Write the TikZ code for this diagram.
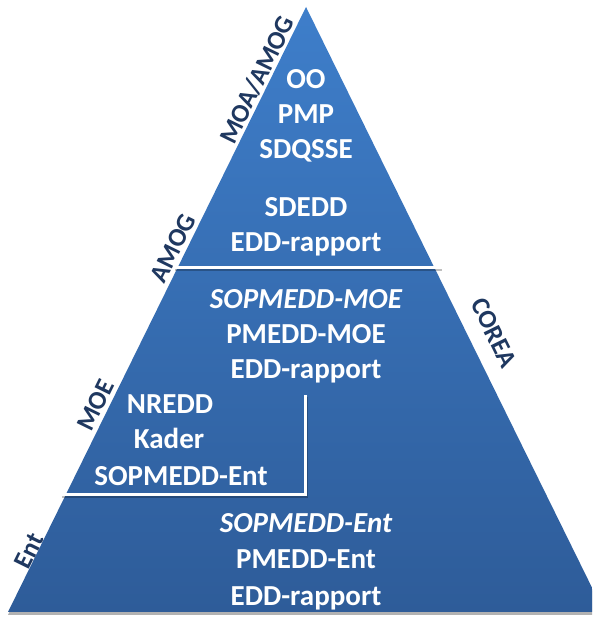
\documentclass[tikz,border=0pt]{standalone}
\usepackage{fontspec}
\setmainfont{Carlito}
\usetikzlibrary{calc}
\definecolor{topblue}{RGB}{62,126,202}
\definecolor{botblue}{RGB}{46,92,153}
\definecolor{navy}{RGB}{31,56,96}
\begin{document}
\begin{tikzpicture}[x=1pt,y=1pt,
  txt/.style={font=\bfseries\fontsize{29}{34}\selectfont, text=white, inner sep=0pt, anchor=base},
  itxt/.style={txt, font=\bfseries\itshape\fontsize{29}{34}\selectfont},
  side/.style={font=\bfseries\fontsize{26}{30}\selectfont, text=navy, inner sep=0pt},
  sep/.style={draw=white, line width=3pt},
  sepshadow/.style={draw=black, opacity=0.25, line width=3pt}]
\clip (0,0) rectangle (592,617);
\fill[white] (0,0) rectangle (592,617);
% coordinates
\coordinate (apex) at (306,610);
\coordinate (bl) at (8,5);
\coordinate (br) at (604,5);
% shadow
\fill[black!30] ($(apex)+(0,-3)$) -- ($(bl)+(0,-3)$) -- ($(br)+(0,-3)$) -- cycle;
\shade[top color=topblue, bottom color=botblue] (apex) -- (bl) -- (br) -- cycle;
% separators
\coordinate (s1l) at (175,349);
\coordinate (s1r) at (442,349);
\coordinate (s2t) at (305,222);
\coordinate (s2c) at (305,122);
\coordinate (s2l) at (62,122);
\draw[sepshadow] ($(s1l)+(0,-2)$) -- ($(s1r)+(0,-2)$);
\draw[sep] (s1l) -- (s1r);
\draw[sepshadow] ($(s2t)+(1.5,-2)$) -- ($(s2c)+(1.5,-2)$) -- ($(s2l)+(0,-2)$);
\draw[sep] (s2t) -- (s2c) -- (s2l);
% texts
\node[txt] (oo) at (306,528) {OO};
\node[txt] (pmp) at (306,493) {PMP};
\node[txt] (sdq) at (306,458) {SDQSSE};
\node[txt] (sdedd) at (306,400) {SDEDD};
\node[txt] (edd1) at (306,365) {EDD-rapport};
\node[itxt] (sopmoe) at (306,308) {SOPMEDD-MOE};
\node[txt] (pmoe) at (306,273) {PMEDD-MOE};
\node[txt] (edd2) at (306,238) {EDD-rapport};
\node[txt] (nredd) at (170,203) {NREDD};
\node[txt] (kader) at (169,168) {Kader};
\node[txt] (sopent1) at (181,131) {SOPMEDD-Ent};
\node[itxt] (sopent2) at (306,84) {SOPMEDD-Ent};
\node[txt] (pment) at (306,48) {PMEDD-Ent};
\node[txt] (edd3) at (306,11) {EDD-rapport};
% side labels
\node[side, rotate=63.8] (moa) at (257,537) {MOA/AMOG};
\node[side, rotate=63.8] (amog) at (173,369) {AMOG};
\node[side, rotate=63.8] (moe) at (96,212) {MOE};
\node[side, rotate=63.8] (ent) at (29,66) {Ent};
\node[side, rotate=-63.8] (corea) at (494,284) {COREA};
\end{tikzpicture}
\end{document}
